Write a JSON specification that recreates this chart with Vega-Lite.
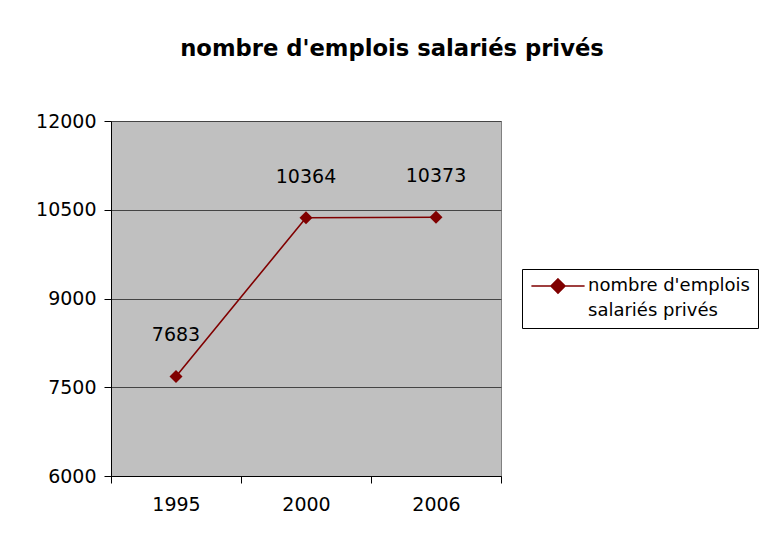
{
  "$schema": "https://vega.github.io/schema/vega-lite/v6.json",
  "width": 390,
  "height": 355,
  "autosize": {"type": "none"},
  "padding": {"left": 111, "top": 121, "right": 262, "bottom": 60},
  "background": "white",
  "title": {
    "text": "nombre d'emplois salariés privés",
    "font": "DejaVu Sans",
    "fontSize": 22.7,
    "fontWeight": "bold",
    "color": "black",
    "anchor": "middle",
    "dx": 86,
    "offset": 51
  },
  "data": {
    "values": [
      {"annee": "1995", "emplois": 7683, "serie": "nombre d'emplois salariés privés"},
      {"annee": "2000", "emplois": 10364, "serie": "nombre d'emplois salariés privés"},
      {"annee": "2006", "emplois": 10373, "serie": "nombre d'emplois salariés privés"}
    ]
  },
  "encoding": {
    "x": {
      "field": "annee",
      "type": "ordinal",
      "scale": {"paddingInner": 0, "paddingOuter": 0},
      "axis": {
        "title": null,
        "labelAngle": 0,
        "tickBand": "extent",
        "tickSize": 7,
        "tickColor": "black",
        "domainColor": "black",
        "labelPadding": 12,
        "labelFont": "DejaVu Sans",
        "labelFontSize": 19,
        "labelColor": "black",
        "grid": false
      }
    },
    "y": {
      "field": "emplois",
      "type": "quantitative",
      "scale": {"domain": [6000, 12000], "nice": false, "zero": false},
      "axis": {
        "title": null,
        "values": [6000, 7500, 9000, 10500, 12000],
        "format": "d",
        "tickSize": 7,
        "tickColor": "black",
        "domainColor": "black",
        "labelPadding": 8,
        "labelFont": "DejaVu Sans",
        "labelFontSize": 19,
        "labelColor": "black",
        "grid": true,
        "gridColor": "#444444",
        "gridOpacity": 1,
        "gridWidth": 1
      }
    }
  },
  "layer": [
    {
      "mark": {"type": "line", "strokeWidth": 1.6, "point": {"shape": "diamond", "filled": true, "size": 170, "opacity": 1}},
      "encoding": {
        "color": {
          "field": "serie",
          "type": "nominal",
          "scale": {"range": ["#800000"]},
          "legend": {
            "title": null,
            "orient": "none",
            "legendX": 411,
            "legendY": 148,
            "strokeColor": "black",
            "fillColor": "white",
            "padding": 8,
            "symbolType": "M-3.8,0H3.8M0,-1L1,0L0,1L-1,0Z",
            "symbolSize": 196,
            "symbolOffset": 19,
            "symbolStrokeWidth": 1.6,
            "symbolFillColor": "#800000",
            "symbolStrokeColor": "#800000",
            "labelFont": "DejaVu Sans",
            "labelFontSize": 18,
            "labelColor": "black",
            "labelLimit": 300,
            "labelExpr": "['nombre d\\'emplois', 'salariés privés']",
            "labelOffset": 21,
            "encode": {
              "labels": {"update": {"lineHeight": {"value": 25}}}
            }
          }
        }
      }
    },
    {
      "mark": {"type": "text", "dy": -41, "font": "DejaVu Sans", "fontSize": 19, "color": "black"},
      "encoding": {"text": {"field": "emplois", "type": "quantitative", "format": "d"}}
    }
  ],
  "config": {
    "view": {"fill": "#C0C0C0", "stroke": "#808080", "strokeWidth": 1},
    "axis": {"ticks": true}
  }
}
